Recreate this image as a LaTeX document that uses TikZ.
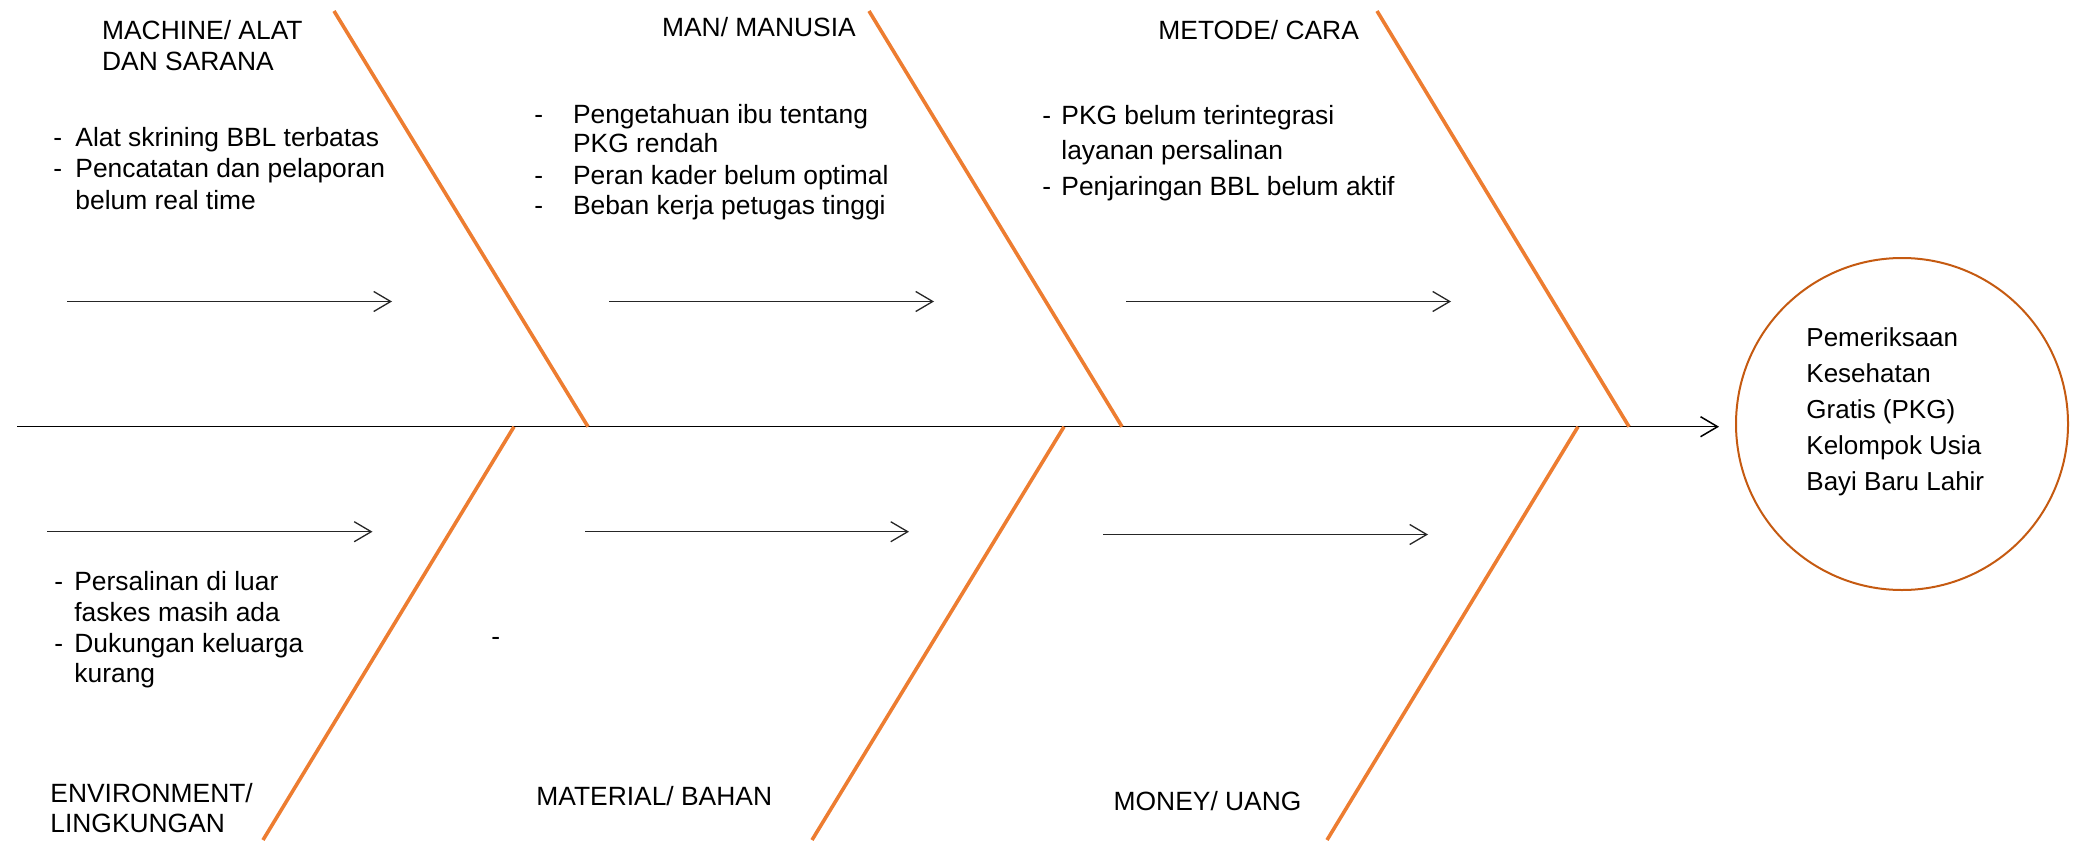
\documentclass[tikz,border=0pt]{standalone}
\usepackage{fontspec}
\setmainfont{Liberation Sans}
\usetikzlibrary{arrows.meta}
\definecolor{boneorange}{HTML}{ED7D31}
\definecolor{goalring}{HTML}{C55A11}
\definecolor{arrowgray}{HTML}{262626}
\newcommand{\dsh}[1]{\makebox[#1][l]{-}}
\begin{document}
\begin{tikzpicture}[x=0.5pt,y=-0.5pt,
  bone/.style={draw=boneorange, line width=1.8pt},
  spinearrow/.style={draw=black, line width=0.75pt, -{Straight Barb[length=8.5pt,width=10pt]}},
  subarrow/.style={draw=arrowgray, line width=0.65pt, -{Straight Barb[length=8.5pt,width=10pt]}},
  lbl/.style={anchor=base west, inner sep=0pt, font=\fontsize{13.2}{15}\selectfont},
  goaltxt/.style={anchor=base west, inner sep=0pt, font=\fontsize{13}{15}\selectfont},
  goalring/.style={circle, draw=goalring, line width=1pt, minimum size=166pt, inner sep=0pt}]
\useasboundingbox (0,0) rectangle (2075,840);

% effect (head)
\node[goalring] (goal) at (1902,424) {};
\node[goaltxt] (g1) at (1806,346) {Pemeriksaan};
\node[goaltxt] (g2) at (1806,382.5) {Kesehatan};
\node[goaltxt] (g3) at (1806,418.5) {Gratis (PKG)};
\node[goaltxt] (g4) at (1806,454) {Kelompok Usia};
\node[goaltxt] (g5) at (1806,490) {Bayi Baru Lahir};

% spine
\coordinate (spineL) at (17,426.7);
\draw[spinearrow, shorten >=8pt] (spineL) -- (spineL -| goal.west);

% upper bones
\coordinate (u1t) at (334,11);   \coordinate (u1b) at (588,426.7);
\coordinate (u2t) at (869,11);   \coordinate (u2b) at (1122,426.7);
\coordinate (u3t) at (1377,11);  \coordinate (u3b) at (1629,426.7);
\draw[bone] (u1t) -- (u1b);
\draw[bone] (u2t) -- (u2b);
\draw[bone] (u3t) -- (u3b);

% lower bones
\coordinate (l1t) at (514,426.7);  \coordinate (l1b) at (263,840);
\coordinate (l2t) at (1064,426.7); \coordinate (l2b) at (812,840);
\coordinate (l3t) at (1578,426.7); \coordinate (l3b) at (1327,840);
\draw[bone] (l1t) -- (l1b);
\draw[bone] (l2t) -- (l2b);
\draw[bone] (l3t) -- (l3b);

% small arrows
\coordinate (ua1s) at (67,301.5);   \coordinate (ua1e) at (392,301.5);
\coordinate (ua2s) at (609,301.5);  \coordinate (ua2e) at (934,301.5);
\coordinate (ua3s) at (1126,301.5); \coordinate (ua3e) at (1451,301.5);
\coordinate (la1s) at (47,531.7);   \coordinate (la1e) at (372.5,531.7);
\coordinate (la2s) at (585,531.7);  \coordinate (la2e) at (909,531.7);
\coordinate (la3s) at (1103,534.5); \coordinate (la3e) at (1428,534.5);
\draw[subarrow] (ua1s) -- (ua1e);
\draw[subarrow] (ua2s) -- (ua2e);
\draw[subarrow] (ua3s) -- (ua3e);
\draw[subarrow] (la1s) -- (la1e);
\draw[subarrow] (la2s) -- (la2e);
\draw[subarrow] (la3s) -- (la3e);

% MACHINE
\node[lbl] (mach1) at (101.7,40) {MACHINE/ ALAT};
\node[lbl] (mach2) at (101.7,71) {DAN SARANA};
\node[lbl] (mi1) at (53,146.5) {\dsh{11pt}Alat skrining BBL terbatas};
\node[lbl] (mi2) at (53,177.5) {\dsh{11pt}Pencatatan dan pelaporan};
\node[lbl] (mi3) at (75,209) {belum real time};

% MAN
\node[lbl] (man) at (661.7,36.7) {MAN/ MANUSIA};
\node[lbl] (ma1) at (534,124) {\dsh{19.3pt}Pengetahuan ibu tentang};
\node[lbl] (ma2) at (572.7,152.7) {PKG rendah};
\node[lbl] (ma3) at (534,184) {\dsh{19.3pt}Peran kader belum optimal};
\node[lbl] (ma4) at (534,214.5) {\dsh{19.3pt}Beban kerja petugas tinggi};

% METODE
\node[lbl] (met) at (1158,39.3) {METODE/ CARA};
\node[lbl] (me1) at (1042,124.5) {\dsh{9.5pt}PKG belum terintegrasi};
\node[lbl] (me2) at (1061,159.5) {layanan persalinan};
\node[lbl] (me3) at (1042,195.5) {\dsh{9.5pt}Penjaringan BBL belum aktif};

% ENVIRONMENT
\node[lbl] (en1) at (54,590.5) {\dsh{10pt}Persalinan di luar};
\node[lbl] (en2) at (74,621.5) {faskes masih ada};
\node[lbl] (en3) at (54,652.5) {\dsh{10pt}Dukungan keluarga};
\node[lbl] (en4) at (74,682.5) {kurang};
\node[lbl] (env1) at (50,802.5) {ENVIRONMENT/};
\node[lbl] (env2) at (50,832.5) {LINGKUNGAN};

% MATERIAL
\node[lbl] (matdash) at (491,645) {-};
\node[lbl] (mat) at (536,805.5) {MATERIAL/ BAHAN};

% MONEY
\node[lbl] (mon) at (1113.3,810.5) {MONEY/ UANG};
\end{tikzpicture}
\end{document}
